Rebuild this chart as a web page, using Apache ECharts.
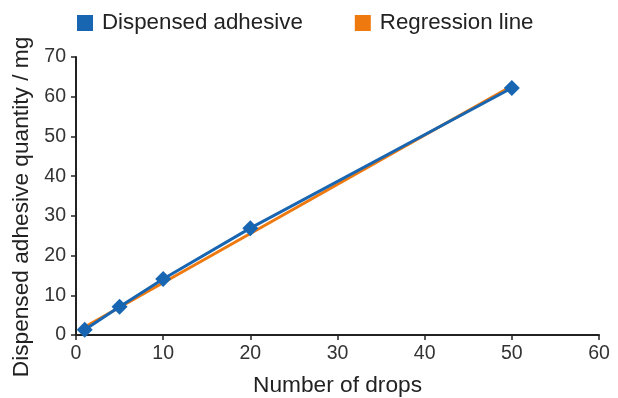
<!DOCTYPE html>
<html><head><meta charset="utf-8">
<script src="https://cdn.jsdelivr.net/npm/echarts@6/dist/echarts.min.js"></script>
<style>html,body{margin:0;padding:0;background:#fff}#c{width:618px;height:398px}</style>
</head><body><div id="c"></div>
<script>
const drops = [1, 5, 10, 20, 50];
const adhesive = [1.3, 7.1, 14.1, 26.9, 62.2];
const regX = [1, 50];
const regY = [2.0, 62.7];
const xTicks = [0, 10, 20, 30, 40, 50, 60];
const yTicks = [0, 10, 20, 30, 40, 50, 60, 70];

const blue = '#1866b1', orange = '#ee790f';
const font = 'Liberation Sans, Arial, sans-serif';
const chart = echarts.init(document.getElementById('c'));
chart.setOption({
  animation: false,
  textStyle: {fontFamily: font},
  legend: {
    left: 77, top: 12, padding: 0, itemWidth: 16, itemHeight: 16, itemGap: 52,
    icon: 'rect',
    textStyle: {fontSize: 22.3, color: '#222', fontFamily: font, padding: [0, 0, 0, 4]},
    data: ['Dispensed adhesive', 'Regression line']
  },
  grid: {left: 76, right: 19, top: 57, bottom: 63, outerBoundsMode: 'none', containLabel: false},
  xAxis: {
    type: 'value', min: xTicks[0], max: xTicks[xTicks.length-1], interval: 10,
    name: 'Number of drops', nameLocation: 'middle', nameGap: 39,
    nameTextStyle: {fontSize: 22.7, color: '#222'},
    axisLine: {lineStyle: {color: '#222', width: 2}},
    axisTick: {show: true, length: 5, lineStyle: {color: '#222', width: 1.5}},
    axisLabel: {fontSize: 19.5, color: '#333', margin: 9},
    splitLine: {show: false}
  },
  yAxis: {
    type: 'value', min: yTicks[0], max: yTicks[yTicks.length-1], interval: 10,
    name: 'Dispensed adhesive quantity / mg', nameLocation: 'middle', nameGap: 43,
    nameTextStyle: {fontSize: 22.7, color: '#222', padding: [0, 22, 0, 0]},
    axisLine: {show: true, lineStyle: {color: '#222', width: 2}},
    axisTick: {show: true, length: 5, lineStyle: {color: '#222', width: 1.5}},
    axisLabel: {fontSize: 19.5, color: '#333', margin: 10},
    splitLine: {show: false}
  },
  series: [
    {
      name: 'Dispensed adhesive', type: 'line', z: 3,
      data: drops.map((d, i) => [d, adhesive[i]]),
      symbol: 'diamond', symbolSize: 16,
      lineStyle: {color: blue, width: 3},
      itemStyle: {color: blue}
    },
    {
      name: 'Regression line', type: 'line', z: 2,
      data: regX.map((d, i) => [d, regY[i]]),
      symbol: 'none',
      lineStyle: {color: orange, width: 3},
      itemStyle: {color: orange}
    }
  ]
});
</script></body></html>
